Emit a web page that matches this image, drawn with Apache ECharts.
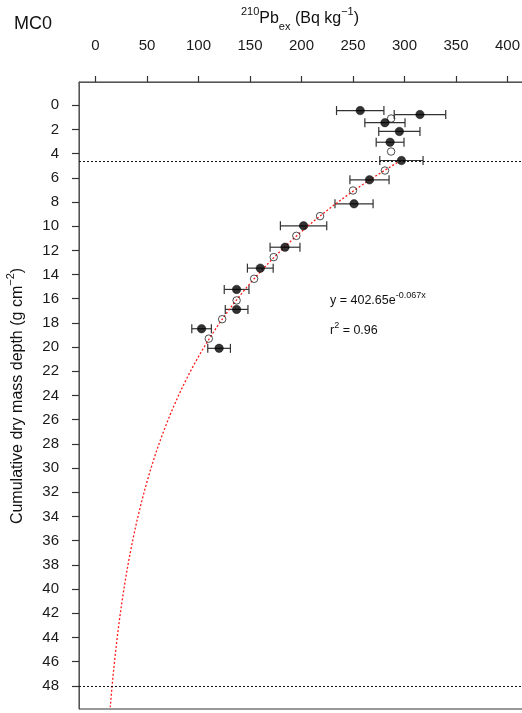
<!DOCTYPE html>
<html>
<head>
<meta charset="utf-8">
<title>MC0 210Pb excess profile</title>
<script src="https://cdn.jsdelivr.net/npm/echarts@6/dist/echarts.min.js"></script>
<style>
  html, body { margin: 0; padding: 0; background: #ffffff; }
  #chart { width: 522px; height: 713px; }
</style>
</head>
<body>
<div id="chart"></div>
<script>
// Measured 210Pb excess activities (filled points) with 1-sigma errors
const depthMeasured = [0.44, 0.77, 1.44, 2.17, 3.06, 4.57, 6.17, 8.15, 9.97, 11.74, 13.47, 15.23, 16.88, 18.48, 20.1];
const pbMeasured    = [257, 315, 281, 295, 286, 297, 266, 251, 202, 184, 160, 137, 137, 103, 120];
const pbError       = [23, 25, 19.5, 20, 13.5, 21, 19, 18.5, 22.5, 14.5, 12.5, 12, 11, 9.5, 11];

// Estimated activities for intermediate samples (open points)
const depthEstimated = [1.1, 3.83, 5.4, 7.05, 9.17, 10.8, 12.56, 14.35, 16.14, 17.69, 19.3];
const pbEstimated    = [287, 287, 281, 250, 218, 195, 173, 154, 137, 123, 110];

// Exponential fit: Pb = A * exp(-B * depth), fitted below the mixed layer
const fitA = 402.65;
const fitB = 0.067;
const fitR2 = 0.96;
const fitStartDepth = 4.57;
const fitEndDepth = 49.92;

// Horizontal reference depths (mixed layer base, core base)
const refDepths = [4.6, 48];

// Axis ranges and ticks
const xRange = [-16, 416];
const yRange = [-1.92, 49.92];
const xTicks = [0, 50, 100, 150, 200, 250, 300, 350, 400];
const yTicks = [0, 2, 4, 6, 8, 10, 12, 14, 16, 18, 20, 22, 24, 26, 28, 30, 32, 34, 36, 38, 40, 42, 44, 46, 48];

const FONT = 'Liberation Sans, Arial, sans-serif';

// Curve sampled along depth from the fitted equation
const fitCurve = [];
for (let d = fitStartDepth; d <= fitEndDepth + 1e-9; d += 0.2) {
  fitCurve.push([fitA * Math.exp(-fitB * d), d]);
}

const errorData = depthMeasured.map((d, i) => [pbMeasured[i] - pbError[i], pbMeasured[i] + pbError[i], d]);

const chart = echarts.init(document.getElementById('chart'), null, { renderer: 'canvas' });

chart.setOption({
  animation: false,
  backgroundColor: '#ffffff',
  grid: {
    left: 79, top: 82, width: 445, height: 627,
    outerBoundsMode: 'none', containLabel: false,
    show: true, borderColor: '#333', borderWidth: 1, backgroundColor: 'transparent'
  },
  xAxis: {
    type: 'value',
    position: 'top',
    min: xRange[0], max: xRange[1],
    axisLine: { show: true, onZero: false, lineStyle: { color: '#555', width: 1 } },
    axisTick: { show: true, length: 6, inside: false, customValues: xTicks, lineStyle: { color: '#333', width: 1.2 } },
    axisLabel: { show: true, customValues: xTicks, margin: 29, color: '#1a1a1a', fontSize: 15, fontFamily: FONT },
    splitLine: { show: false }
  },
  yAxis: {
    type: 'value',
    inverse: true,
    min: yRange[0], max: yRange[1],
    axisLine: { show: true, onZero: false, lineStyle: { color: '#555', width: 1 } },
    axisTick: { show: true, length: 7, inside: false, customValues: yTicks, lineStyle: { color: '#333', width: 1.2 } },
    axisLabel: { show: true, customValues: yTicks, margin: 20, color: '#1a1a1a', fontSize: 15, fontFamily: FONT },
    splitLine: { show: false }
  },
  graphic: [
    {
      type: 'text', left: 14, top: 15,
      style: { text: 'MC0', font: '18px ' + FONT, fill: '#111' }
    },
    {
      type: 'text', x: 300, y: 19,
      style: {
        text: '{sup|210}{main|Pb}{sub|ex}{main| (Bq kg}{sup|−1}{main|)}',
        align: 'center', verticalAlign: 'middle', fill: '#111',
        rich: {
          main: { fontSize: 16, fontFamily: FONT, lineHeight: 26, verticalAlign: 'middle' },
          sup: { fontSize: 11, fontFamily: FONT, verticalAlign: 'top', lineHeight: 12 },
          sub: { fontSize: 11, fontFamily: FONT, verticalAlign: 'bottom', lineHeight: 12 }
        }
      }
    },
    {
      type: 'text', x: 18, y: 396, rotation: Math.PI / 2,
      style: {
        text: '{main|Cumulative dry mass depth (g cm}{sup|−2}{main|)}',
        align: 'center', verticalAlign: 'middle', fill: '#111',
        rich: {
          main: { fontSize: 16, fontFamily: FONT, lineHeight: 26, verticalAlign: 'middle' },
          sup: { fontSize: 11, fontFamily: FONT, verticalAlign: 'top', lineHeight: 12 }
        }
      }
    },
    {
      type: 'text', x: 330, y: 301,
      style: {
        text: '{main|y = ' + fitA.toFixed(2) + 'e}{sup|-' + fitB.toFixed(3) + 'x}',
        verticalAlign: 'middle', fill: '#111',
        rich: {
          main: { fontSize: 12.5, fontFamily: FONT, lineHeight: 20, verticalAlign: 'middle' },
          sup: { fontSize: 9, fontFamily: FONT, verticalAlign: 'top', lineHeight: 10 }
        }
      }
    },
    {
      type: 'text', x: 330, y: 331,
      style: {
        text: '{main|r}{sup|2}{main| = ' + fitR2.toFixed(2) + '}',
        verticalAlign: 'middle', fill: '#111',
        rich: {
          main: { fontSize: 12.5, fontFamily: FONT, lineHeight: 20, verticalAlign: 'middle' },
          sup: { fontSize: 9, fontFamily: FONT, verticalAlign: 'top', lineHeight: 10 }
        }
      }
    }
  ],
  series: [
    {
      // Reference depth lines
      type: 'line',
      data: [],
      silent: true,
      markLine: {
        silent: true,
        symbol: 'none',
        label: { show: false },
        lineStyle: { color: '#111', type: [2, 2], width: 1 },
        data: refDepths.map(v => ({ yAxis: v }))
      }
    },
    {
      // Horizontal error bars with end caps
      type: 'custom',
      data: errorData,
      z: 3,
      renderItem: function (params, api) {
        const y = api.value(2);
        const p0 = api.coord([api.value(0), y]);
        const p1 = api.coord([api.value(1), y]);
        const cap = 4.5;
        const st = { stroke: '#333', lineWidth: 1.2 };
        return {
          type: 'group',
          children: [
            { type: 'line', shape: { x1: p0[0], y1: p0[1], x2: p1[0], y2: p1[1] }, style: st },
            { type: 'line', shape: { x1: p0[0], y1: p0[1] - cap, x2: p0[0], y2: p0[1] + cap }, style: st },
            { type: 'line', shape: { x1: p1[0], y1: p1[1] - cap, x2: p1[0], y2: p1[1] + cap }, style: st }
          ]
        };
      }
    },
    {
      // Exponential fit curve
      type: 'line',
      data: fitCurve,
      showSymbol: false,
      smooth: false,
      z: 4,
      lineStyle: { color: '#ff1a1a', width: 1.3, type: [2, 2] }
    },
    {
      type: 'scatter',
      data: depthEstimated.map((d, i) => [pbEstimated[i], d]),
      symbol: 'circle',
      symbolSize: 7.5,
      z: 5,
      itemStyle: { color: 'rgba(255,255,255,0)', borderColor: '#222', borderWidth: 1 }
    },
    {
      type: 'scatter',
      data: depthMeasured.map((d, i) => [pbMeasured[i], d]),
      symbol: 'circle',
      symbolSize: 8.5,
      z: 6,
      itemStyle: { color: '#000', borderColor: '#000', borderWidth: 0.5 }
    }
  ]
});
</script>
</body>
</html>
